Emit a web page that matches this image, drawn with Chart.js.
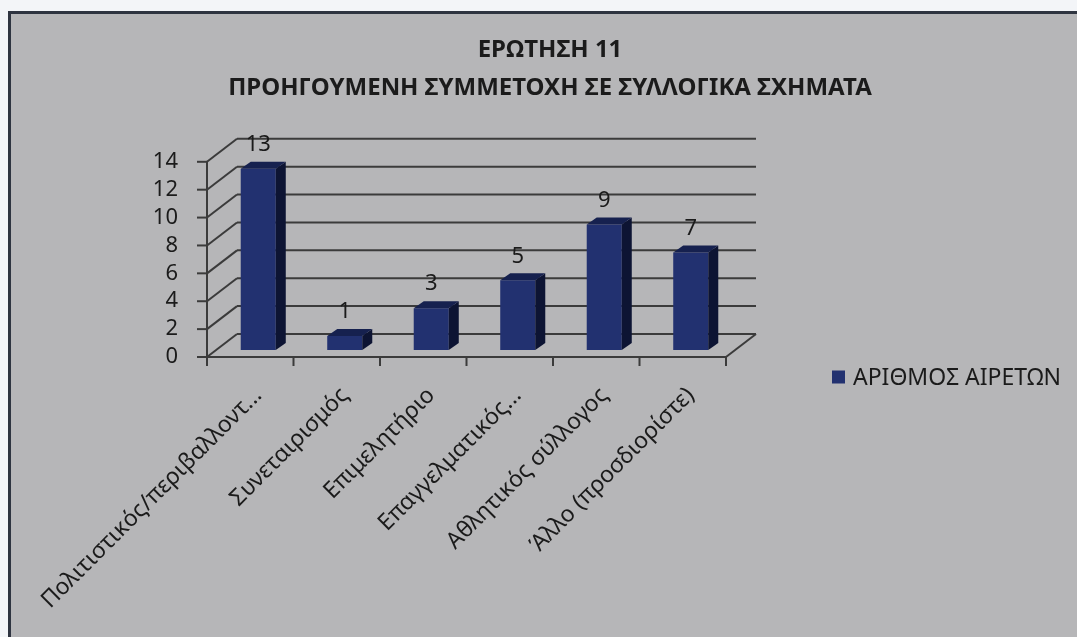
<!DOCTYPE html>
<html>
<head>
<meta charset="utf-8">
<script src="https://cdn.jsdelivr.net/npm/chart.js@4.4.0/dist/chart.umd.min.js"></script>
<style>
html,body{margin:0;padding:0;background:#ffffff;}
#wrap{width:1077px;height:637px;position:relative;}
</style>
</head>
<body>
<div id="wrap"><canvas id="c" width="1077" height="637"></canvas></div>
<script>
// ---- data ----
const titleLines = ['ΕΡΩΤΗΣΗ 11', 'ΠΡΟΗΓΟΥΜΕΝΗ ΣΥΜΜΕΤΟΧΗ ΣΕ ΣΥΛΛΟΓΙΚΑ ΣΧΗΜΑΤΑ'];
const categories = ['Πολιτιστικός/περιβαλλοντ...', 'Συνεταιρισμός', 'Επιμελητήριο', 'Επαγγελματικός...', 'Αθλητικός σύλλογος', 'Άλλο (προσδιορίστε)'];
const seriesName = 'ΑΡΙΘΜΟΣ ΑΙΡΕΤΩΝ';
const values = [13, 1, 3, 5, 9, 7];
const yMin = 0, yMax = 14, yStep = 2;

// ---- style / geometry ----
const FONT = '"Noto Sans"';
const textColor = '#1b1b1b';
const frontColor = '#223170';
const sideColor = '#0d1433';
const topColor = '#16214f';
const gridColor = '#3b3b3b';
const F = {dx: -8, dy: 7};     // front (axis) plane relative to bar plane
const B = {dx: 22, dy: -16};   // back wall relative to bar plane
const D = {dx: 10, dy: -7};    // bar depth

const padRight = 9, padLeft = 32;
const chartLeft = 215, chartRight = 734, chartBottom = 350;
const legendFontSize = 23, legendBox = 13;

function seg(ctx, x1, y1, x2, y2) { ctx.beginPath(); ctx.moveTo(x1, y1); ctx.lineTo(x2, y2); ctx.stroke(); }
function poly(ctx, pts) { ctx.beginPath(); ctx.moveTo(pts[0][0], pts[0][1]); for (let i = 1; i < pts.length; i++) ctx.lineTo(pts[i][0], pts[i][1]); ctx.closePath(); ctx.fill(); }

const scene3d = {
  id: 'scene3d',
  beforeDraw(chart) {
    const {ctx, width, height} = chart;
    ctx.save();
    ctx.fillStyle = '#f3f5f8'; ctx.fillRect(0, 0, width, height);
    ctx.fillStyle = '#b6b6b8'; ctx.fillRect(9, 12, width - 9, height - 12);
    ctx.strokeStyle = '#2e3440'; ctx.lineWidth = 3;
    ctx.beginPath(); ctx.moveTo(9.5, height); ctx.lineTo(9.5, 12.5); ctx.lineTo(width, 12.5); ctx.stroke();
    ctx.restore();
  },
  beforeDatasetsDraw(chart) {
    const {ctx, scales: {x, y}} = chart;
    const L = x.left, R = x.right;
    ctx.save();
    ctx.strokeStyle = gridColor; ctx.lineWidth = 2;
    y.ticks.forEach(t => {
      const py = y.getPixelForValue(t.value);
      seg(ctx, L + F.dx, py + F.dy, L + B.dx, py + B.dy);
      seg(ctx, L + B.dx, py + B.dy, R + B.dx, py + B.dy);
      seg(ctx, L + F.dx - 10, py + F.dy, L + F.dx, py + F.dy);
    });
    const y0 = y.getPixelForValue(yMin), yT = y.getPixelForValue(yMax);
    seg(ctx, L + F.dx, y0 + F.dy, L + F.dx, yT + F.dy);
    seg(ctx, L + F.dx - 10, y0 + F.dy, R + F.dx, y0 + F.dy);
    seg(ctx, R + F.dx, y0 + F.dy, R + B.dx, y0 + B.dy);
    const n = categories.length, cw = (R - L) / n;
    for (let i = 0; i <= n; i++) {
      const px = L + i * cw + F.dx;
      seg(ctx, px, y0 + F.dy, px, y0 + F.dy + 9);
    }
    ctx.restore();
  },
  afterDatasetsDraw(chart) {
    const {ctx} = chart;
    const meta = chart.getDatasetMeta(0);
    const data = chart.data.datasets[0].data;
    ctx.save();
    meta.data.forEach((bar, i) => {
      const p = bar.getProps(['x', 'y', 'base', 'width'], true);
      const l = p.x - p.width / 2, r = p.x + p.width / 2;
      ctx.fillStyle = sideColor;
      poly(ctx, [[r, p.y], [r + D.dx, p.y + D.dy], [r + D.dx, p.base + D.dy], [r, p.base]]);
      ctx.fillStyle = topColor;
      poly(ctx, [[l, p.y], [l + D.dx, p.y + D.dy], [r + D.dx, p.y + D.dy], [r, p.y]]);
      ctx.fillStyle = textColor;
      ctx.font = '22px ' + FONT;
      ctx.textAlign = 'center'; ctx.textBaseline = 'middle';
      ctx.fillText(String(data[i]), p.x, p.y - 24);
    });
    ctx.restore();
  },
  afterDraw(chart) {
    // legend (single series) to the right of the plot
    const {ctx, chartArea} = chart;
    const ds = chart.data.datasets[0];
    const bx = chartArea.right + 98, cy = 377;
    ctx.save();
    ctx.fillStyle = ds.backgroundColor;
    ctx.fillRect(bx, cy - legendBox / 2, legendBox, legendBox);
    ctx.fillStyle = textColor;
    ctx.font = legendFontSize + 'px ' + FONT;
    ctx.textAlign = 'left'; ctx.textBaseline = 'middle';
    ctx.fillText(ds.label, bx + legendBox + 8, cy + 1);
    ctx.restore();
  }
};

new Chart(document.getElementById('c'), {
  type: 'bar',
  data: {
    labels: categories,
    datasets: [{
      label: seriesName,
      data: values,
      backgroundColor: frontColor,
      borderWidth: 0,
      barPercentage: 0.405,
      categoryPercentage: 1
    }]
  },
  options: {
    responsive: false,
    maintainAspectRatio: false,
    animation: false,
    devicePixelRatio: 1,
    layout: {padding: {left: padLeft, right: padRight, top: 12, bottom: 0}},
    plugins: {
      title: {
        display: true,
        text: titleLines,
        color: textColor,
        font: {family: FONT, size: 24, weight: 'bold', lineHeight: 1.6},
        padding: {top: 19, bottom: 47}
      },
      legend: {display: false},
      tooltip: {enabled: false}
    },
    scales: {
      x: {
        grid: {display: false, drawTicks: false},
        border: {display: false},
        ticks: {
          color: textColor, font: {family: FONT, size: 23},
          minRotation: 45, maxRotation: 45, autoSkip: false, padding: 32
        },
        afterFit(s) { s.height = 637 - chartBottom; s.paddingLeft = 0; s.paddingRight = 0; }
      },
      y: {
        min: yMin, max: yMax,
        grid: {display: false, drawTicks: false},
        border: {display: false},
        ticks: {
          stepSize: yStep, autoSkip: false, color: textColor, font: {family: FONT, size: 22},
          padding: 37, labelOffset: 7
        },
        afterFit(s) { s.width = chartLeft - padLeft; s.paddingTop = 0; s.paddingBottom = 0; }
      },
      legendSpace: {
        type: 'linear', axis: 'y', position: 'right', display: true,
        grid: {display: false, drawTicks: false},
        border: {display: false},
        ticks: {display: false},
        afterFit(s) { s.width = 1077 - padRight - chartRight; }
      }
    }
  },
  plugins: [scene3d]
});
</script>
</body>
</html>
